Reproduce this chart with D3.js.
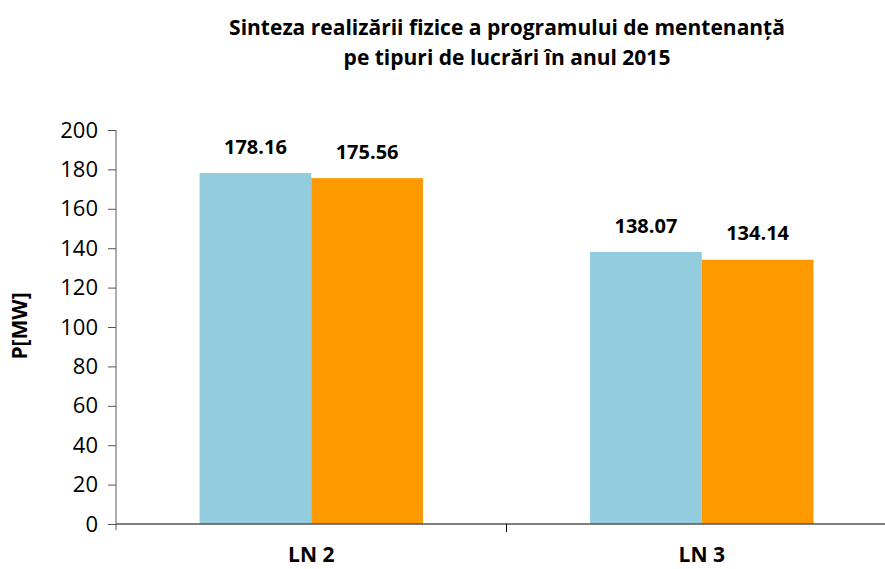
<!DOCTYPE html>
<html><head><meta charset="utf-8">
<script src="https://cdn.jsdelivr.net/npm/d3@7"></script>
<style>body{margin:0;background:#fff}svg{display:block}</style>
</head><body>
<svg id="c" width="885" height="569"></svg>
<script>
const titleLines = ["Sinteza realizării fizice a programului de mentenanță", "pe tipuri de lucrări în anul 2015"];
const categories = ["LN 2", "LN 3"];
const seriesA = [178.16, 138.07];
const seriesB = [175.56, 134.14];
const yTicks = [0, 20, 40, 60, 80, 100, 120, 140, 160, 180, 200];
const yLabel = "P[MW]";
const colors = ["#93CDDD", "#FF9900"];

const svg = d3.select("#c");
const font = "'Open Sans', sans-serif";
const pLeft = 116, pRight = 897, pTop = 130, pBottom = 524;

const x = d3.scaleBand().domain(categories).range([pLeft, pRight]).paddingInner(0).paddingOuter(0);
const inner = d3.scaleBand().domain([0, 1]).range([0, x.bandwidth()]).paddingOuter(0.748).paddingInner(0);
const y = d3.scaleLinear().domain([0, 200]).range([pBottom, pTop]);

// title
svg.append("text").attr("font-family", font).attr("font-weight", "bold")
  .attr("font-size", 21).attr("text-anchor", "middle").attr("fill", "#000")
  .selectAll("tspan").data(titleLines).join("tspan")
  .attr("x", 507).attr("y", (d, i) => 35 + i * 30).text(d => d);

// bars
const series = [seriesA, seriesB];
series.forEach((vals, s) => {
  svg.append("g").selectAll("rect").data(categories).join("rect")
    .attr("x", (d) => x(d) + inner(s))
    .attr("width", inner.bandwidth())
    .attr("y", (d, i) => y(vals[i]))
    .attr("height", (d, i) => y(0) - y(vals[i]))
    .attr("fill", colors[s]);
  svg.append("g").selectAll("text").data(categories).join("text")
    .attr("x", (d) => x(d) + inner(s) + inner.bandwidth() / 2)
    .attr("y", (d, i) => y(vals[i]) - 19.5)
    .attr("text-anchor", "middle").attr("font-family", font).attr("font-weight", "bold")
    .attr("font-size", 20).attr("fill", "#000")
    .text((d, i) => vals[i].toFixed(2));
});

// y axis
const yAxis = svg.append("g").attr("transform", `translate(${pLeft},0)`)
  .call(d3.axisLeft(y).tickValues(yTicks).tickSize(8).tickPadding(10).tickFormat(d3.format("d")));
yAxis.select(".domain").attr("stroke", "#808080").attr("stroke-width", 1.3).attr("d", `M0,${pTop}H0V${pBottom + 6}`);
yAxis.selectAll(".tick line").attr("stroke", "#555");
yAxis.selectAll(".tick text").attr("font-family", font).attr("font-size", 22).attr("fill", "#000");

// x axis
const xAxis = svg.append("g").attr("transform", `translate(0,${pBottom})`)
  .call(d3.axisBottom(x).tickSize(0).tickFormat(""));
xAxis.select(".domain").attr("stroke", "#555").attr("stroke-width", 1.3).attr("d", `M${pLeft},0H${pRight}`);
xAxis.selectAll(".tick").remove();
// category separator ticks
svg.append("g").selectAll("line").data(categories.slice(1)).join("line")
  .attr("x1", d => x(d)).attr("x2", d => x(d))
  .attr("y1", pBottom).attr("y2", pBottom + 8).attr("stroke", "#000");
svg.append("g").selectAll("text").data(categories).join("text")
  .attr("x", d => x(d) + x.bandwidth() / 2).attr("y", 562)
  .attr("text-anchor", "middle").attr("font-family", font).attr("font-weight", "bold")
  .attr("font-size", 21).attr("fill", "#000").text(d => d);

// y label
svg.append("text").attr("transform", `translate(27,326) rotate(-90)`)
  .attr("text-anchor", "middle").attr("font-family", font).attr("font-weight", "bold")
  .attr("font-size", 21).attr("fill", "#000").text(yLabel);
</script>
</body></html>
